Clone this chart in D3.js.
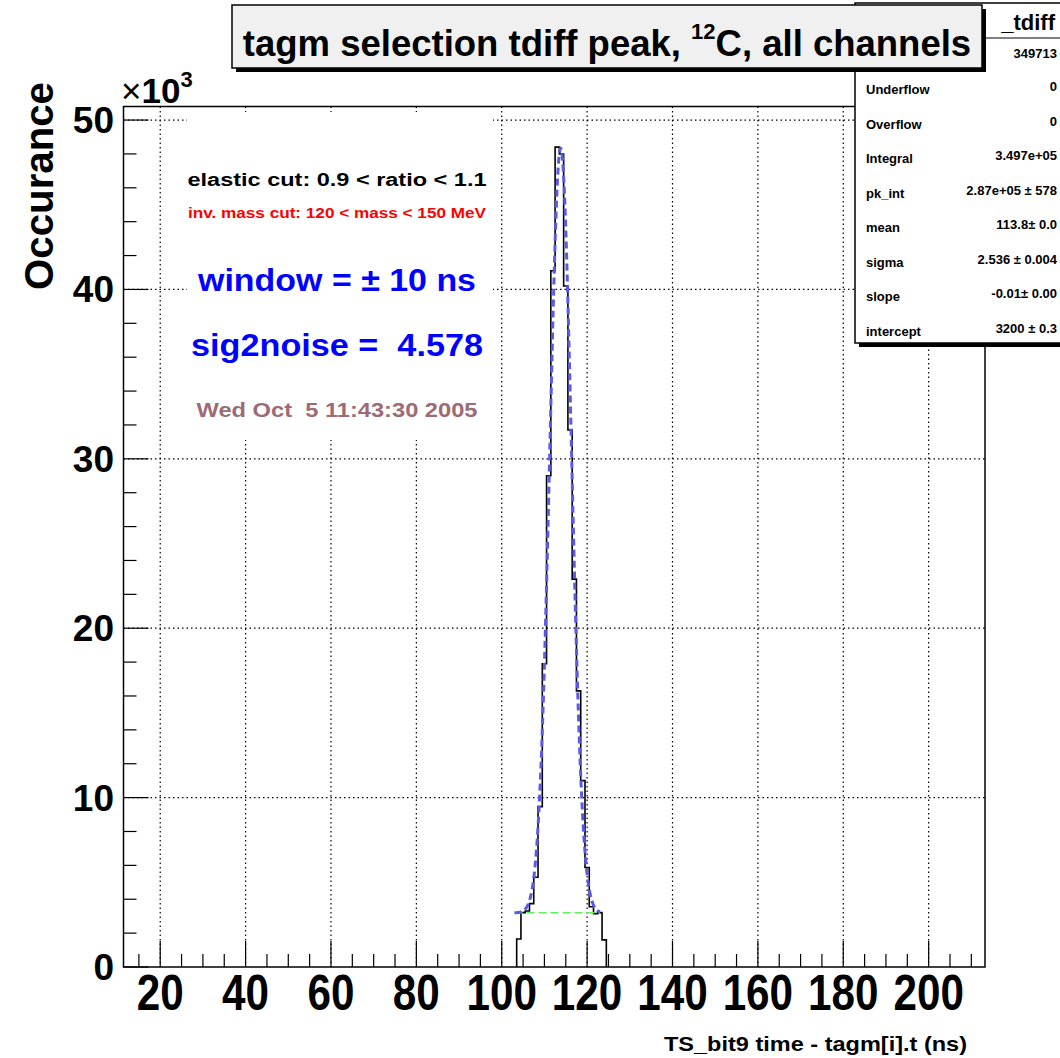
<!DOCTYPE html>
<html>
<head>
<meta charset="utf-8">
<script src="https://cdn.jsdelivr.net/npm/d3@7"></script>
<style>
  body { margin: 0; background: #fff; }
  text { font-family: "Liberation Sans", Arial, sans-serif; font-weight: bold; }
</style>
</head>
<body>
<svg width="1060" height="1058"></svg>
<script>
// histogram: lower bin edges (ns, 1 ns wide) and counts
const binEdges = [103.5, 104.5, 105.5, 106.5, 107.5, 108.5, 109.5, 110.5, 111.5, 112.5, 113.5,
                  114.5, 115.5, 116.5, 117.5, 118.5, 119.5, 120.5, 121.5, 122.5, 123.5];
const binCounts = [1650, 3210, 3310, 3740, 5300, 9470, 17900, 29000, 41100, 48400, 48000,
                   40200, 31700, 22900, 16300, 11000, 5870, 3560, 3150, 3210, 1600];
const binWidth = 1;

// fitted curve (gaus + pol1)
const fitX = [103.0, 103.8, 104.3, 104.8, 105.3, 105.8, 106.3, 106.8, 107.3, 107.8, 108.3, 108.8,
              109.3, 109.8, 110.3, 110.8, 111.3, 111.8, 112.3, 112.8, 113.3, 113.8, 114.3, 114.8,
              115.3, 115.8, 116.3, 116.8, 117.3, 117.8, 118.3, 118.8, 119.3, 119.8, 120.3, 120.8,
              121.3, 121.8, 122.3, 122.8, 123.0];
const fitY = [3200, 3220, 3240, 3280, 3360, 3510, 3770, 4200, 4890, 5950, 7500, 9660,
              12550, 16220, 20620, 25630, 30970, 36280, 41110, 44970, 47480, 48350, 47480, 44970,
              41110, 36280, 30970, 25630, 20620, 16220, 12550, 9660, 7500, 5950, 4890, 4200,
              3770, 3510, 3360, 3280, 3260];
// background (pol1) part of the fit
const bgX = [103.0, 123.0];
const bgY = [3199, 3199];

const xRange = [11.4, 213.2];
const yMax = 50800;
const xMajor = [20, 40, 60, 80, 100, 120, 140, 160, 180, 200];
const yMajor = [0, 10000, 20000, 30000, 40000, 50000];

const statLabels = ["Underflow", "Overflow", "Integral", "pk_int", "mean", "sigma", "slope", "intercept"];
const statValues = ["0", "0", "3.497e+05", "2.87e+05 \u00b1 578", "113.8\u00b1 0.0",
                    "2.536 \u00b1 0.004", "-0.01\u00b1 0.00", "3200 \u00b1 0.3"];
const statEntries = "349713";

const notes = [
  {t: "elastic cut: 0.9 < ratio < 1.1", c: "#000", fs: 18, y: 186, w: 299},
  {t: "inv. mass cut: 120 < mass < 150 MeV", c: "#ff0000", fs: 14, y: 218, w: 298},
  {t: "window = \u00b1 10 ns", c: "#0000ff", fs: 31, y: 291, w: 278},
  {t: "sig2noise =  4.578", c: "#0000ff", fs: 31, y: 356, w: 292},
  {t: "Wed Oct  5 11:43:30 2005", c: "#9c6b73", fs: 21, y: 417, w: 281}
];

const svg = d3.select("svg");
const L = 123.5, R = 985, T = 106.5, B = 967;

const x = d3.scaleLinear().domain(xRange).range([L, R]);
const y = d3.scaleLinear().domain([0, yMax]).range([B, T]);

// grid
const grid = svg.append("g").attr("stroke", "#000").attr("stroke-width", 1.2)
  .attr("stroke-dasharray", "1.5,3");
grid.selectAll(".gx").data(xMajor).join("line")
  .attr("x1", d => x(d)).attr("x2", d => x(d)).attr("y1", T).attr("y2", B);
grid.selectAll(".gy").data(yMajor.filter(d => d > 0)).join("line")
  .attr("y1", d => y(d)).attr("y2", d => y(d)).attr("x1", L).attr("x2", R);

// white pave behind the notes
svg.append("rect").attr("x", 187).attr("y", 112).attr("width", 306).attr("height", 328)
  .attr("fill", "#fff");

// ticks
const xMinor = d3.range(15, 213, 5);
svg.append("g").selectAll("line").data(xMinor).join("line")
  .attr("x1", d => x(d)).attr("x2", d => x(d))
  .attr("y1", B).attr("y2", d => B - (d % 20 === 0 ? 26 : 13))
  .attr("stroke", "#000").attr("stroke-width", 1.2);
const yMinor = d3.range(0, yMax, 2000);
svg.append("g").selectAll("line").data(yMinor).join("line")
  .attr("y1", d => y(d)).attr("y2", d => y(d))
  .attr("x1", L).attr("x2", d => L + (d % 10000 === 0 ? 25 : 13))
  .attr("stroke", "#000").attr("stroke-width", 1.2);

// histogram
const histPts = [[binEdges[0], 0]].concat(binEdges.map((e, i) => [e, binCounts[i]]),
  [[binEdges[binEdges.length - 1] + binWidth, 0]]);
svg.append("path")
  .attr("d", d3.line().x(d => x(d[0])).y(d => y(d[1])).curve(d3.curveStepAfter)(histPts))
  .attr("fill", "none").attr("stroke", "#000").attr("stroke-width", 1.6);

// background line
svg.append("path")
  .attr("d", d3.line().x((d, i) => x(d)).y((d, i) => y(bgY[i]))(bgX))
  .attr("fill", "none").attr("stroke", "#5cf25c").attr("stroke-width", 1.6)
  .attr("stroke-dasharray", "8,4");

// fit curve
svg.append("path")
  .attr("d", d3.line().x(d => x(d)).y((d, i) => y(fitY[i])).curve(d3.curveMonotoneX)(fitX))
  .attr("fill", "none").attr("stroke", "#5a5ae6").attr("stroke-width", 3)
  .attr("stroke-dasharray", "7,4");

// frame
svg.append("rect").attr("x", L).attr("y", T).attr("width", R - L).attr("height", B - T)
  .attr("fill", "none").attr("stroke", "#000").attr("stroke-width", 1.5);

// axis labels
svg.append("g").selectAll("text").data(xMajor).join("text")
  .attr("x", d => x(d)).attr("y", 1010).attr("text-anchor", "middle")
  .attr("font-size", 50).attr("textLength", d => String(d).length * 23.5)
  .attr("lengthAdjust", "spacingAndGlyphs").text(d => d);
svg.append("g").selectAll("text").data(yMajor).join("text")
  .attr("x", 114).attr("y", d => y(d) + 13).attr("text-anchor", "end")
  .attr("font-size", 37).text(d => d / 1000);

const mult = svg.append("text").attr("x", 121).attr("y", 103).attr("font-size", 35);
mult.append("tspan").attr("font-weight", "normal").text("\u00d7");
mult.append("tspan").text("10");
mult.append("tspan").attr("font-size", 22).attr("dy", -16).text("3");

svg.append("text").attr("x", 967).attr("y", 1051).attr("text-anchor", "end")
  .attr("font-size", 21).attr("textLength", 303).attr("lengthAdjust", "spacingAndGlyphs")
  .text("TS_bit9 time - tagm[i].t (ns)");
svg.append("text").attr("transform", "translate(53,82) rotate(-90)")
  .attr("text-anchor", "end").attr("font-size", 40)
  .attr("textLength", 208).attr("lengthAdjust", "spacingAndGlyphs").text("Occurance");

// notes
svg.append("g").selectAll("text").data(notes).join("text")
  .attr("x", 337).attr("y", d => d.y).attr("text-anchor", "middle")
  .attr("font-size", d => d.fs).attr("fill", d => d.c)
  .attr("textLength", d => d.w).attr("lengthAdjust", "spacingAndGlyphs")
  .style("white-space", "pre").text(d => d.t);

// stats box
svg.append("rect").attr("x", 859).attr("y", 7).attr("width", 210).attr("height", 340).attr("fill", "#000");
svg.append("rect").attr("x", 855).attr("y", 3).attr("width", 210).attr("height", 340)
  .attr("fill", "#fff").attr("stroke", "#000").attr("stroke-width", 1.5);
svg.append("line").attr("x1", 855).attr("x2", 1065).attr("y1", 38).attr("y2", 38)
  .attr("stroke", "#000").attr("stroke-width", 1.2);
svg.append("text").attr("x", 1055).attr("y", 30).attr("text-anchor", "end")
  .attr("font-size", 22).text("_tdiff");
svg.append("text").attr("x", 1057).attr("y", 58).attr("text-anchor", "end")
  .attr("font-size", 13).text(statEntries);
const rowY = d3.scaleLinear().domain([0, statLabels.length - 1]).range([94, 336]);
svg.append("g").selectAll("text").data(statLabels).join("text")
  .attr("x", 866).attr("y", (d, i) => rowY(i)).attr("font-size", 13).text(d => d);
svg.append("g").selectAll("text").data(statValues).join("text")
  .attr("x", 1057).attr("y", (d, i) => rowY(i) - 3).attr("text-anchor", "end")
  .attr("font-size", 13).style("white-space", "pre").text(d => d);

// title box
svg.append("rect").attr("x", 236).attr("y", 9).attr("width", 750).attr("height", 63).attr("fill", "#000");
svg.append("rect").attr("x", 232).attr("y", 5).attr("width", 750).attr("height", 63)
  .attr("fill", "#f0f0f0").attr("stroke", "#000").attr("stroke-width", 1.5);
const title = svg.append("text").attr("x", 607).attr("y", 56).attr("text-anchor", "middle")
  .attr("font-size", 36.5);
title.append("tspan").text("tagm selection tdiff peak, ");
title.append("tspan").attr("font-size", 22).attr("dy", -17).text("12");
title.append("tspan").attr("dy", 17).text("C, all channels");
</script>
</body>
</html>
